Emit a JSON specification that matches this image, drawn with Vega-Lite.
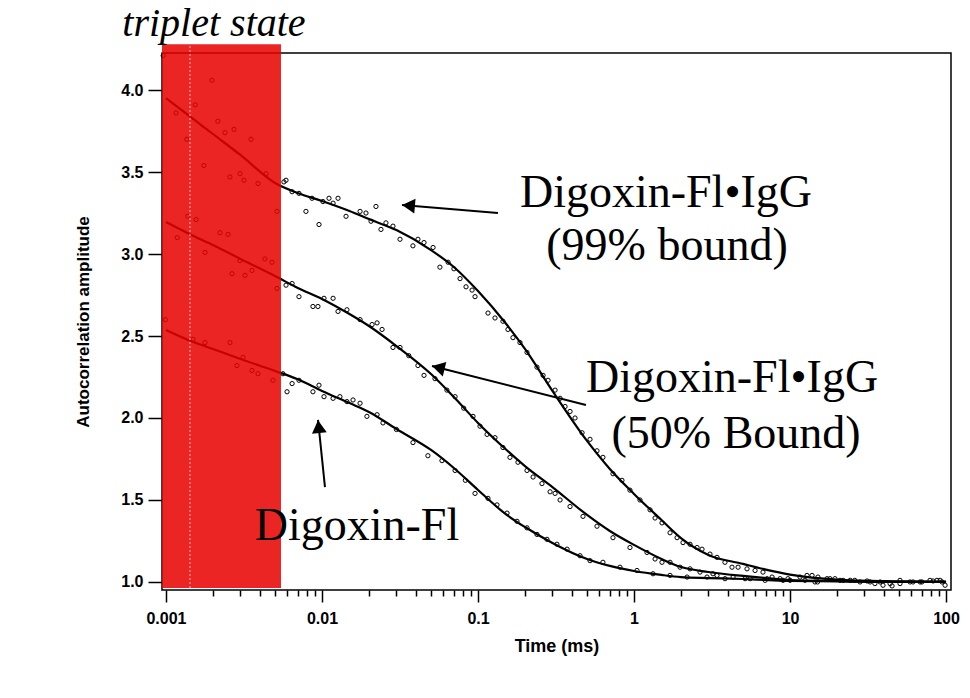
{
  "$schema": "https://vega.github.io/schema/vega-lite/v6.json",
  "width": 789,
  "height": 537,
  "autosize": "none",
  "padding": {"left": 162, "top": 53, "right": 19, "bottom": 108},
  "background": "white",
  "config": {
    "axis": {"labelFont": "Liberation Sans", "labelFontWeight": "bold", "labelFontSize": 16, "labelColor": "black", "titleFont": "Liberation Sans", "titleFontWeight": "bold", "titleColor": "black", "tickColor": "black", "domain": false, "grid": false},
    "view": {"stroke": "black", "strokeWidth": 1.5}
  },
  "datasets": {
    "fit": [
      {"series": "A", "t": 0.001, "g": 3.951}, {"series": "A", "t": 0.0015, "g": 3.823}, {"series": "A", "t": 0.002, "g": 3.732}, {"series": "A", "t": 0.003, "g": 3.604}, {"series": "A", "t": 0.005, "g": 3.433}, {"series": "A", "t": 0.007, "g": 3.372}, {"series": "A", "t": 0.01, "g": 3.323}, {"series": "A", "t": 0.015, "g": 3.262}, {"series": "A", "t": 0.02, "g": 3.213}, {"series": "A", "t": 0.03, "g": 3.146}, {"series": "A", "t": 0.05, "g": 3.024}, {"series": "A", "t": 0.07, "g": 2.921}, {"series": "A", "t": 0.1, "g": 2.774}, {"series": "A", "t": 0.15, "g": 2.579}, {"series": "A", "t": 0.2, "g": 2.421}, {"series": "A", "t": 0.3, "g": 2.165}, {"series": "A", "t": 0.5, "g": 1.86}, {"series": "A", "t": 0.7, "g": 1.689}, {"series": "A", "t": 1, "g": 1.537}, {"series": "A", "t": 1.5, "g": 1.378}, {"series": "A", "t": 2, "g": 1.268}, {"series": "A", "t": 3, "g": 1.165}, {"series": "A", "t": 5, "g": 1.11}, {"series": "A", "t": 7, "g": 1.075}, {"series": "A", "t": 10, "g": 1.045}, {"series": "A", "t": 20, "g": 1.015}, {"series": "A", "t": 50, "g": 1.004}, {"series": "A", "t": 100, "g": 1.0},
      {"series": "B", "t": 0.001, "g": 3.195}, {"series": "B", "t": 0.0015, "g": 3.11}, {"series": "B", "t": 0.002, "g": 3.055}, {"series": "B", "t": 0.003, "g": 2.97}, {"series": "B", "t": 0.005, "g": 2.866}, {"series": "B", "t": 0.007, "g": 2.793}, {"series": "B", "t": 0.01, "g": 2.726}, {"series": "B", "t": 0.015, "g": 2.634}, {"series": "B", "t": 0.02, "g": 2.561}, {"series": "B", "t": 0.03, "g": 2.439}, {"series": "B", "t": 0.05, "g": 2.268}, {"series": "B", "t": 0.07, "g": 2.128}, {"series": "B", "t": 0.1, "g": 1.97}, {"series": "B", "t": 0.15, "g": 1.811}, {"series": "B", "t": 0.2, "g": 1.707}, {"series": "B", "t": 0.3, "g": 1.579}, {"series": "B", "t": 0.5, "g": 1.409}, {"series": "B", "t": 0.7, "g": 1.311}, {"series": "B", "t": 1, "g": 1.226}, {"series": "B", "t": 1.5, "g": 1.14}, {"series": "B", "t": 2, "g": 1.091}, {"series": "B", "t": 3, "g": 1.061}, {"series": "B", "t": 5, "g": 1.037}, {"series": "B", "t": 7, "g": 1.024}, {"series": "B", "t": 10, "g": 1.012}, {"series": "B", "t": 20, "g": 1.006}, {"series": "B", "t": 50, "g": 1.0}, {"series": "B", "t": 100, "g": 1.0},
      {"series": "C", "t": 0.001, "g": 2.537}, {"series": "C", "t": 0.0015, "g": 2.463}, {"series": "C", "t": 0.002, "g": 2.421}, {"series": "C", "t": 0.003, "g": 2.36}, {"series": "C", "t": 0.005, "g": 2.287}, {"series": "C", "t": 0.007, "g": 2.236}, {"series": "C", "t": 0.01, "g": 2.165}, {"series": "C", "t": 0.015, "g": 2.091}, {"series": "C", "t": 0.02, "g": 2.037}, {"series": "C", "t": 0.03, "g": 1.933}, {"series": "C", "t": 0.05, "g": 1.805}, {"series": "C", "t": 0.07, "g": 1.695}, {"series": "C", "t": 0.1, "g": 1.561}, {"series": "C", "t": 0.15, "g": 1.415}, {"series": "C", "t": 0.2, "g": 1.335}, {"series": "C", "t": 0.3, "g": 1.238}, {"series": "C", "t": 0.5, "g": 1.14}, {"series": "C", "t": 0.7, "g": 1.098}, {"series": "C", "t": 1, "g": 1.067}, {"series": "C", "t": 1.5, "g": 1.043}, {"series": "C", "t": 2, "g": 1.03}, {"series": "C", "t": 3, "g": 1.024}, {"series": "C", "t": 5, "g": 1.018}, {"series": "C", "t": 7, "g": 1.012}, {"series": "C", "t": 10, "g": 1.006}, {"series": "C", "t": 20, "g": 1.004}, {"series": "C", "t": 50, "g": 1.0}, {"series": "C", "t": 100, "g": 1.0}
    ],
    "obs": [
      {"series": "A", "t": 0.00096, "g": 4.21}, {"series": "A", "t": 0.00116, "g": 3.86}, {"series": "A", "t": 0.00136, "g": 3.7}, {"series": "A", "t": 0.00154, "g": 3.91}, {"series": "A", "t": 0.00175, "g": 3.54}, {"series": "A", "t": 0.00197, "g": 4.06}, {"series": "A", "t": 0.00215, "g": 3.81}, {"series": "A", "t": 0.00239, "g": 3.74}, {"series": "A", "t": 0.00257, "g": 3.47}, {"series": "A", "t": 0.00273, "g": 3.76}, {"series": "A", "t": 0.00298, "g": 3.49}, {"series": "A", "t": 0.00316, "g": 3.45}, {"series": "A", "t": 0.00351, "g": 3.7}, {"series": "A", "t": 0.00389, "g": 3.43}, {"series": "A", "t": 0.00438, "g": 3.49}, {"series": "A", "t": 0.00515, "g": 3.26}, {"series": "A", "t": 0.0057, "g": 3.44}, {"series": "A", "t": 0.00588, "g": 3.45}, {"series": "A", "t": 0.00643, "g": 3.38}, {"series": "A", "t": 0.00712, "g": 3.37}, {"series": "A", "t": 0.00789, "g": 3.26}, {"series": "A", "t": 0.00863, "g": 3.34}, {"series": "A", "t": 0.00957, "g": 3.18}, {"series": "A", "t": 0.01014, "g": 3.32}, {"series": "A", "t": 0.01109, "g": 3.34}, {"series": "A", "t": 0.01178, "g": 3.31}, {"series": "A", "t": 0.01267, "g": 3.34}, {"series": "A", "t": 0.01426, "g": 3.23}, {"series": "A", "t": 0.01754, "g": 3.26}, {"series": "A", "t": 0.01914, "g": 3.25}, {"series": "A", "t": 0.02061, "g": 3.2}, {"series": "A", "t": 0.02218, "g": 3.29}, {"series": "A", "t": 0.02388, "g": 3.15}, {"series": "A", "t": 0.0257, "g": 3.19}, {"series": "A", "t": 0.02851, "g": 3.17}, {"series": "A", "t": 0.03162, "g": 3.09}, {"series": "A", "t": 0.03828, "g": 3.05}, {"series": "A", "t": 0.04121, "g": 3.09}, {"series": "A", "t": 0.04508, "g": 3.07}, {"series": "A", "t": 0.05152, "g": 3.04}, {"series": "A", "t": 0.057, "g": 2.92}, {"series": "A", "t": 0.0643, "g": 2.95}, {"series": "A", "t": 0.0701, "g": 2.91}, {"series": "A", "t": 0.0767, "g": 2.85}, {"series": "A", "t": 0.0838, "g": 2.8}, {"series": "A", "t": 0.0916, "g": 2.78}, {"series": "A", "t": 0.0957, "g": 2.74}, {"series": "A", "t": 0.1159, "g": 2.64}, {"series": "A", "t": 0.1285, "g": 2.61}, {"series": "A", "t": 0.1445, "g": 2.59}, {"series": "A", "t": 0.1556, "g": 2.54}, {"series": "A", "t": 0.1675, "g": 2.49}, {"series": "A", "t": 0.1858, "g": 2.46}, {"series": "A", "t": 0.2061, "g": 2.4}, {"series": "A", "t": 0.2388, "g": 2.31}, {"series": "A", "t": 0.2612, "g": 2.26}, {"series": "A", "t": 0.2812, "g": 2.23}, {"series": "A", "t": 0.3119, "g": 2.17}, {"series": "A", "t": 0.3357, "g": 2.12}, {"series": "A", "t": 0.3614, "g": 2.07}, {"series": "A", "t": 0.389, "g": 2.04}, {"series": "A", "t": 0.4188, "g": 2.0}, {"series": "A", "t": 0.4645, "g": 1.91}, {"series": "A", "t": 0.5224, "g": 1.87}, {"series": "A", "t": 0.579, "g": 1.8}, {"series": "A", "t": 0.632, "g": 1.76}, {"series": "A", "t": 0.733, "g": 1.66}, {"series": "A", "t": 0.837, "g": 1.62}, {"series": "A", "t": 0.942, "g": 1.56}, {"series": "A", "t": 1.092, "g": 1.5}, {"series": "A", "t": 1.267, "g": 1.44}, {"series": "A", "t": 1.364, "g": 1.39}, {"series": "A", "t": 1.511, "g": 1.36}, {"series": "A", "t": 1.702, "g": 1.3}, {"series": "A", "t": 1.888, "g": 1.27}, {"series": "A", "t": 2.061, "g": 1.24}, {"series": "A", "t": 2.286, "g": 1.23}, {"series": "A", "t": 2.535, "g": 1.21}, {"series": "A", "t": 2.729, "g": 1.2}, {"series": "A", "t": 3.069, "g": 1.17}, {"series": "A", "t": 3.404, "g": 1.15}, {"series": "A", "t": 3.828, "g": 1.12}, {"series": "A", "t": 4.246, "g": 1.09}, {"series": "A", "t": 4.645, "g": 1.09}, {"series": "A", "t": 5.3, "g": 1.08}, {"series": "A", "t": 5.97, "g": 1.07}, {"series": "A", "t": 6.71, "g": 1.06}, {"series": "A", "t": 7.67, "g": 1.03}, {"series": "A", "t": 8.63, "g": 1.02}, {"series": "A", "t": 9.7, "g": 1.02}, {"series": "A", "t": 11.59, "g": 1.03}, {"series": "A", "t": 12.85, "g": 1.04}, {"series": "A", "t": 13.84, "g": 1.04}, {"series": "A", "t": 15.1, "g": 1.03}, {"series": "A", "t": 17.26, "g": 1.02}, {"series": "A", "t": 19.41, "g": 1.02}, {"series": "A", "t": 21.88, "g": 1.01}, {"series": "A", "t": 26.0, "g": 1.01}, {"series": "A", "t": 31.19, "g": 1.006}, {"series": "A", "t": 35.0, "g": 0.99}, {"series": "A", "t": 39.45, "g": 0.98}, {"series": "A", "t": 45.08, "g": 0.976}, {"series": "A", "t": 50.7, "g": 0.99}, {"series": "A", "t": 61.4, "g": 1.0}, {"series": "A", "t": 70.0, "g": 1.0}, {"series": "A", "t": 82.6, "g": 1.006}, {"series": "A", "t": 87.5, "g": 1.01}, {"series": "A", "t": 98.6, "g": 0.98},
      {"series": "B", "t": 0.00118, "g": 3.1}, {"series": "B", "t": 0.00138, "g": 3.23}, {"series": "B", "t": 0.00156, "g": 3.21}, {"series": "B", "t": 0.00178, "g": 3.01}, {"series": "B", "t": 0.00222, "g": 3.13}, {"series": "B", "t": 0.0025, "g": 3.12}, {"series": "B", "t": 0.00265, "g": 2.88}, {"series": "B", "t": 0.00298, "g": 2.96}, {"series": "B", "t": 0.00321, "g": 2.87}, {"series": "B", "t": 0.00356, "g": 2.9}, {"series": "B", "t": 0.00431, "g": 2.97}, {"series": "B", "t": 0.00478, "g": 2.95}, {"series": "B", "t": 0.00515, "g": 2.79}, {"series": "B", "t": 0.00588, "g": 2.81}, {"series": "B", "t": 0.00643, "g": 2.82}, {"series": "B", "t": 0.00712, "g": 2.74}, {"series": "B", "t": 0.00875, "g": 2.68}, {"series": "B", "t": 0.00942, "g": 2.68}, {"series": "B", "t": 0.0103, "g": 2.73}, {"series": "B", "t": 0.01178, "g": 2.73}, {"series": "B", "t": 0.01267, "g": 2.65}, {"series": "B", "t": 0.01445, "g": 2.66}, {"series": "B", "t": 0.01754, "g": 2.6}, {"series": "B", "t": 0.02094, "g": 2.57}, {"series": "B", "t": 0.02254, "g": 2.58}, {"series": "B", "t": 0.02427, "g": 2.54}, {"series": "B", "t": 0.02851, "g": 2.43}, {"series": "B", "t": 0.03162, "g": 2.43}, {"series": "B", "t": 0.036, "g": 2.38}, {"series": "B", "t": 0.04121, "g": 2.32}, {"series": "B", "t": 0.04508, "g": 2.26}, {"series": "B", "t": 0.053, "g": 2.24}, {"series": "B", "t": 0.0632, "g": 2.17}, {"series": "B", "t": 0.0713, "g": 2.13}, {"series": "B", "t": 0.081, "g": 2.06}, {"series": "B", "t": 0.0929, "g": 2.01}, {"series": "B", "t": 0.103, "g": 1.95}, {"series": "B", "t": 0.1143, "g": 1.9}, {"series": "B", "t": 0.1285, "g": 1.88}, {"series": "B", "t": 0.1445, "g": 1.82}, {"series": "B", "t": 0.1603, "g": 1.76}, {"series": "B", "t": 0.1803, "g": 1.73}, {"series": "B", "t": 0.2061, "g": 1.68}, {"series": "B", "t": 0.2254, "g": 1.64}, {"series": "B", "t": 0.257, "g": 1.6}, {"series": "B", "t": 0.2897, "g": 1.55}, {"series": "B", "t": 0.3119, "g": 1.54}, {"series": "B", "t": 0.3357, "g": 1.5}, {"series": "B", "t": 0.389, "g": 1.46}, {"series": "B", "t": 0.471, "g": 1.4}, {"series": "B", "t": 0.579, "g": 1.34}, {"series": "B", "t": 0.733, "g": 1.27}, {"series": "B", "t": 0.942, "g": 1.21}, {"series": "B", "t": 1.211, "g": 1.18}, {"series": "B", "t": 1.364, "g": 1.14}, {"series": "B", "t": 1.511, "g": 1.12}, {"series": "B", "t": 1.702, "g": 1.12}, {"series": "B", "t": 1.972, "g": 1.09}, {"series": "B", "t": 2.286, "g": 1.08}, {"series": "B", "t": 2.649, "g": 1.06}, {"series": "B", "t": 3.206, "g": 1.05}, {"series": "B", "t": 3.404, "g": 1.04}, {"series": "B", "t": 4.315, "g": 1.03}, {"series": "B", "t": 5.55, "g": 1.02}, {"series": "B", "t": 7.12, "g": 1.02}, {"series": "B", "t": 9.02, "g": 1.01}, {"series": "B", "t": 12.47, "g": 1.01}, {"series": "B", "t": 15.0, "g": 1.0}, {"series": "B", "t": 18.03, "g": 1.02}, {"series": "B", "t": 24.3, "g": 1.01}, {"series": "B", "t": 32.6, "g": 1.0}, {"series": "B", "t": 43.8, "g": 0.99}, {"series": "B", "t": 58.8, "g": 1.0}, {"series": "B", "t": 78.9, "g": 1.01}, {"series": "B", "t": 94.2, "g": 1.0},
      {"series": "C", "t": 0.00099, "g": 2.6}, {"series": "C", "t": 0.00149, "g": 2.48}, {"series": "C", "t": 0.00178, "g": 2.46}, {"series": "C", "t": 0.00257, "g": 2.46}, {"series": "C", "t": 0.00285, "g": 2.32}, {"series": "C", "t": 0.00312, "g": 2.37}, {"series": "C", "t": 0.00356, "g": 2.29}, {"series": "C", "t": 0.00389, "g": 2.27}, {"series": "C", "t": 0.00485, "g": 2.23}, {"series": "C", "t": 0.00562, "g": 2.27}, {"series": "C", "t": 0.00597, "g": 2.16}, {"series": "C", "t": 0.00643, "g": 2.21}, {"series": "C", "t": 0.00712, "g": 2.23}, {"series": "C", "t": 0.00875, "g": 2.16}, {"series": "C", "t": 0.00957, "g": 2.2}, {"series": "C", "t": 0.0103, "g": 2.13}, {"series": "C", "t": 0.01178, "g": 2.12}, {"series": "C", "t": 0.01303, "g": 2.13}, {"series": "C", "t": 0.01445, "g": 2.1}, {"series": "C", "t": 0.01581, "g": 2.11}, {"series": "C", "t": 0.01754, "g": 2.09}, {"series": "C", "t": 0.01941, "g": 2.01}, {"series": "C", "t": 0.02254, "g": 2.02}, {"series": "C", "t": 0.0246, "g": 1.97}, {"series": "C", "t": 0.03, "g": 1.93}, {"series": "C", "t": 0.0383, "g": 1.85}, {"series": "C", "t": 0.04775, "g": 1.77}, {"series": "C", "t": 0.05875, "g": 1.74}, {"series": "C", "t": 0.0713, "g": 1.68}, {"series": "C", "t": 0.083, "g": 1.62}, {"series": "C", "t": 0.0957, "g": 1.54}, {"series": "C", "t": 0.1159, "g": 1.51}, {"series": "C", "t": 0.1324, "g": 1.47}, {"series": "C", "t": 0.1535, "g": 1.42}, {"series": "C", "t": 0.1778, "g": 1.37}, {"series": "C", "t": 0.2061, "g": 1.33}, {"series": "C", "t": 0.2388, "g": 1.29}, {"series": "C", "t": 0.2767, "g": 1.26}, {"series": "C", "t": 0.3206, "g": 1.23}, {"series": "C", "t": 0.3724, "g": 1.2}, {"series": "C", "t": 0.4508, "g": 1.16}, {"series": "C", "t": 0.5224, "g": 1.13}, {"series": "C", "t": 0.632, "g": 1.12}, {"series": "C", "t": 0.813, "g": 1.09}, {"series": "C", "t": 1.045, "g": 1.07}, {"series": "C", "t": 1.324, "g": 1.05}, {"series": "C", "t": 1.702, "g": 1.04}, {"series": "C", "t": 2.188, "g": 1.03}, {"series": "C", "t": 2.938, "g": 1.03}, {"series": "C", "t": 3.83, "g": 1.02}, {"series": "C", "t": 5.15, "g": 1.02}, {"series": "C", "t": 6.92, "g": 1.01}, {"series": "C", "t": 10.0, "g": 1.01}, {"series": "C", "t": 14.45, "g": 1.0}, {"series": "C", "t": 20.9, "g": 1.01}, {"series": "C", "t": 28.1, "g": 1.0}, {"series": "C", "t": 37.8, "g": 1.0}, {"series": "C", "t": 50.7, "g": 1.01}, {"series": "C", "t": 68.1, "g": 1.0}, {"series": "C", "t": 91.6, "g": 1.01}
    ],
    "band": [{"t": 0.000943, "t1": 0.00546, "g": 0.963, "g1": 4.28}],
    "dash": [{"t": 0.001425, "g": 0.963, "g1": 4.28}],
    "arrows": [
      {"t": 0.1343, "g": 3.25, "t2": 0.0326, "g2": 3.299},
      {"t": 0.492, "g": 2.079, "t2": 0.0507, "g2": 2.317},
      {"t": 0.01045, "g": 1.579, "t2": 0.00943, "g2": 1.988}
    ],
    "heads": [
      {"t": 0.03585, "g": 3.296, "a": 275},
      {"t": 0.05566, "g": 2.307, "a": 284},
      {"t": 0.009524, "g": 1.948, "a": 354}
    ],
    "labels": [
      {"t": 1.603, "g": 3.287, "txt": "Digoxin-Fl•IgG"},
      {"t": 1.627, "g": 2.963, "txt": "(99% bound)"},
      {"t": 4.25, "g": 2.159, "txt": "Digoxin-Fl•IgG"},
      {"t": 4.51, "g": 1.817, "txt": "(50% Bound)"},
      {"t": 0.01676, "g": 1.256, "txt": "Digoxin-Fl"}
    ],
    "title": [{"t": 0.00203, "g": 4.33, "txt": "triplet state"}]
  },
  "encoding": {
    "x": {"field": "t", "type": "quantitative", "scale": {"type": "log", "domain": [0.000943, 107.6], "nice": false},
      "axis": {"orient": "bottom",
        "values": [0.001, 0.002, 0.003, 0.004, 0.005, 0.006, 0.007, 0.008, 0.009, 0.01, 0.02, 0.03, 0.04, 0.05, 0.06, 0.07, 0.08, 0.09, 0.1, 0.2, 0.3, 0.4, 0.5, 0.6, 0.7, 0.8, 0.9, 1, 2, 3, 4, 5, 6, 7, 8, 9, 10, 20, 30, 40, 50, 60, 70, 80, 90, 100],
        "labelExpr": "indexof([0.001, 0.01, 0.1, 1, 10, 100], datum.value) >= 0 ? format(datum.value, '~g') : ''",
        "tickSize": {"condition": {"test": "indexof([0.001, 0.01, 0.1, 1, 10, 100], datum.value) >= 0", "value": 12}, "value": 6},
        "tickWidth": 1.5, "labelPadding": 8, "labelFlush": false, "labelOverlap": false, "title": "Time (ms)", "titleFontSize": 18, "titlePadding": 11}},
    "y": {"field": "g", "type": "quantitative", "scale": {"domain": [0.951, 4.226], "nice": false, "zero": false},
      "axis": {"values": [1, 1.5, 2, 2.5, 3, 3.5, 4], "format": ".1f", "tickSize": 14, "tickWidth": 1.5, "labelPadding": 5, "title": "Autocorrelation amplitude", "titleFontSize": 17, "titlePadding": 28}}
  },
  "layer": [
    {
      "data": {"name": "fit"},
      "mark": {"type": "line", "color": "black", "strokeWidth": 2.2, "interpolate": "monotone"},
      "encoding": {"detail": {"field": "series", "type": "nominal"}}
    },
    {
      "data": {"name": "obs"},
      "mark": {"type": "point", "shape": "circle", "filled": false, "size": 18, "strokeWidth": 1, "color": "black", "opacity": 1},
      "encoding": {}
    },
    {
      "data": {"name": "band"},
      "mark": {"type": "rect", "color": "#e80000", "opacity": 0.86},
      "encoding": {"x2": {"field": "t1"}, "y2": {"field": "g1"}}
    },
    {
      "data": {"name": "dash"},
      "mark": {"type": "rule", "color": "white", "strokeWidth": 1, "strokeDash": [2, 2], "opacity": 0.7},
      "encoding": {"y2": {"field": "g1"}}
    },
    {
      "data": {"name": "arrows"},
      "mark": {"type": "rule", "color": "black", "strokeWidth": 2},
      "encoding": {"x2": {"field": "t2"}, "y2": {"field": "g2"}}
    },
    {
      "data": {"name": "heads"},
      "mark": {"type": "point", "shape": "triangle-up", "filled": true, "color": "black", "size": 220, "opacity": 1},
      "encoding": {"angle": {"field": "a", "type": "quantitative", "scale": null}}
    },
    {
      "data": {"name": "labels"},
      "mark": {"type": "text", "font": "Liberation Serif", "fontSize": 46, "align": "center", "baseline": "alphabetic", "color": "black"},
      "encoding": {"text": {"field": "txt"}}
    },
    {
      "data": {"name": "title"},
      "mark": {"type": "text", "font": "Liberation Serif", "fontStyle": "italic", "fontSize": 40, "align": "center", "baseline": "alphabetic", "color": "black"},
      "encoding": {"text": {"field": "txt"}}
    }
  ]
}
